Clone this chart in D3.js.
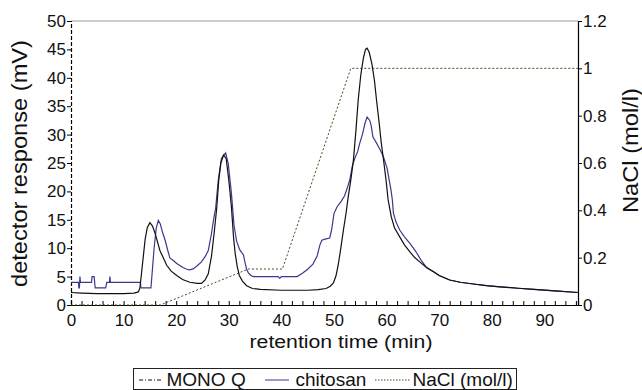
<!DOCTYPE html>
<html><head><meta charset="utf-8">
<script src="https://cdn.jsdelivr.net/npm/d3@7"></script>
<style>
body{margin:0;background:#fff;}
svg{display:block;font-family:"Liberation Sans",Arial,sans-serif;}
</style></head>
<body><svg id="c" width="642" height="390"></svg>
<script>
// retention time (min) / detector response (mV)
const monoQTime = [0,2,5,8,10,12,12.8,13.1,13.4,13.8,14.1,14.5,15.0,15.5,16.0,16.9,18.2,19.0,20.1,21.2,22.6,24.0,24.8,25.5,26.1,26.7,27.2,27.7,28.1,28.5,29.0,29.5,30.0,30.5,30.9,31.2,31.6,32.0,32.6,33.4,34.5,36,40,45,47,48.5,49.3,49.9,50.4,50.8,51.3,51.8,52.3,52.7,53.2,53.7,54.2,54.6,55.1,55.6,56.0,56.3,56.7,57.2,57.7,58.1,58.6,59.0,59.5,59.9,60.3,60.9,61.5,62.5,63.4,64.4,65.3,66.3,67.6,69,70,72,74,76.5,79,81.6,85,88,92,96.4];
const monoQValues = [2.2,2.1,2.0,2.0,2.0,2.1,2.3,3.0,5.5,9,11.6,13.6,14.5,13.9,12.6,9.6,7.0,6.0,5.2,4.5,4.0,3.8,3.8,4.4,5.5,8.5,12.5,17,22,25,26.4,25.8,22,17.3,12,9.2,6.8,5.2,4.2,3.4,2.9,2.75,2.6,2.6,2.7,2.9,3.3,3.9,5.2,7.0,10,13.2,16.2,19,22,25.5,31,36,40.5,43.5,45,45.2,44.5,42.5,39.5,36,32,28.5,25,22,18.5,15.5,13.6,12.0,10.6,9.4,8.4,7.6,6.6,5.8,5.2,4.4,4.0,3.7,3.4,3.2,2.95,2.75,2.5,2.2];

const chitosanTime = [0,1.4,1.5,1.6,1.7,1.8,3.9,4.0,4.4,4.6,6.6,6.8,7.3,7.4,7.5,13.2,13.3,15.2,15.5,15.8,16.2,16.6,17.0,17.4,17.9,18.4,18.8,19.5,20.1,21.3,22.0,22.6,23.3,24.0,24.8,25.5,26.1,26.7,27.1,27.5,28.0,28.6,29.4,29.9,30.5,31.0,31.5,32.1,32.8,33.1,33.4,33.7,34.2,34.7,39.4,39.7,40.0,43.0,44,45,46,46.8,47.3,47.7,48.3,49.2,49.6,50,50.6,51.4,52.0,52.5,53.0,53.5,54.0,54.5,54.9,55.4,55.9,56.3,56.8,57.1,57.4,58.1,58.8,59.4,60.1,60.5,60.8,61.1,61.3,61.8,62.5,63.4,64.4,65.5,66.5,67.6,69,70,72,74,76.5,79,81.6,85,88,92,96.4];
const chitosanValues = [4.0,4.0,3.0,3.0,5.0,4.0,4.0,5.0,5.0,3.0,3.0,4.0,4.0,5.0,4.0,4.0,3.0,3.0,6.5,10,13.5,14.9,14.2,12.8,11.4,9.6,8.3,7.8,7.3,6.6,6.3,6.2,6.4,6.9,7.6,8.5,9.6,12.5,15,17,22,25.8,26.8,24.9,19.7,14,11.2,9.7,8.8,7.4,6.3,5.7,5.2,5.0,5.0,4.7,5.0,5.0,5.6,6.3,7.2,8.6,10.5,11.4,11.6,11.8,13.5,16.1,17.3,18.3,19.2,20.5,22,24.5,25.9,27,28.5,30,32,33.1,32.5,31.5,29.6,28.5,27.3,26.1,24.1,22,20.5,18.5,16.2,14.6,13.2,12,10.9,9.5,8.0,6.6,5.8,5.2,4.4,4.0,3.7,3.4,3.2,2.95,2.75,2.5,2.2];

// NaCl gradient (mol/l)
const naclTime = [0,17,33.7,40.2,53.2,96.4];
const naclValues = [0,0,0.152,0.152,1.0,1.0];

const xTicks = d3.range(0, 97, 2);
const yLeftTicks = d3.range(0, 51, 5);
const yRightTicks = [0,0.2,0.4,0.6,0.8,1.0,1.2];
const legendLabels = ["MONO Q","chitosan","NaCl (mol/l)"];

const svg = d3.select("#c");
const L = 71, R = 578, T = 21, B = 305;
const x = d3.scaleLinear().domain([0, 96.4]).range([L, R]);
const y = d3.scaleLinear().domain([0, 50]).range([B, T]);
const y2 = d3.scaleLinear().domain([0, 1.2]).range([B, T]);

// top frame line
svg.append("line").attr("x1", L).attr("x2", R).attr("y1", T).attr("y2", T)
  .attr("stroke", "#bdbdbd").attr("stroke-width", 1.5);

// bottom axis
const gx = svg.append("g").attr("transform", `translate(0,${B})`)
  .call(d3.axisBottom(x).tickValues(xTicks).tickSize(-4).tickPadding(9)
    .tickFormat(d => d % 10 === 0 && d <= 90 ? d : ""));
gx.select(".domain").attr("stroke", "#000").attr("stroke-width", 1.2);
gx.selectAll(".tick line").attr("stroke", "#000");
gx.selectAll("text").attr("font-size", 17).attr("fill", "#111");

// left axis
const gy = svg.append("g").attr("transform", `translate(${L},0)`)
  .call(d3.axisLeft(y).tickValues(yLeftTicks).tickSize(4).tickPadding(1));
gy.select(".domain").attr("stroke", "#000").attr("stroke-width", 1.2).attr("stroke-dasharray", "4,2");
gy.selectAll(".tick line").attr("stroke", "#000");
gy.selectAll("text").attr("font-size", 17).attr("fill", "#111");

// right axis
const gy2 = svg.append("g").attr("transform", `translate(${R},0)`)
  .call(d3.axisRight(y2).tickValues(yRightTicks).tickSize(4).tickPadding(1)
    .tickFormat(d => String(+d.toFixed(1))));
gy2.select(".domain").attr("stroke", "#000").attr("stroke-width", 1.2);
gy2.selectAll(".tick line").attr("stroke", "#000");
gy2.selectAll("text").attr("font-size", 17).attr("fill", "#111");

// series
const lineL = d3.line().x(d => x(d[0])).y(d => y(d[1]));
const lineR = d3.line().x(d => x(d[0])).y(d => y2(d[1]));
svg.append("path").datum(d3.zip(naclTime, naclValues)).attr("d", lineR)
  .attr("fill", "none").attr("stroke", "#4a4a1e").attr("stroke-width", 1).attr("stroke-dasharray", "2,2");
svg.append("path").datum(d3.zip(chitosanTime, chitosanValues)).attr("d", lineL)
  .attr("fill", "none").attr("stroke", "#3a3a8c").attr("stroke-width", 1.2);
svg.append("path").datum(d3.zip(monoQTime, monoQValues)).attr("d", lineL)
  .attr("fill", "none").attr("stroke", "#111").attr("stroke-width", 1.2);

// axis titles
svg.append("text").attr("x", 341).attr("y", 348).attr("text-anchor", "middle")
  .attr("font-size", 18).attr("fill", "#111").attr("textLength", 183).attr("lengthAdjust", "spacingAndGlyphs")
  .text("retention time (min)");
svg.append("text").attr("transform", "translate(27,163.5) rotate(-90)").attr("text-anchor", "middle")
  .attr("font-size", 22).attr("fill", "#111").attr("textLength", 247).attr("lengthAdjust", "spacingAndGlyphs")
  .text("detector response (mV)");
svg.append("text").attr("transform", "translate(638,150.5) rotate(-90)").attr("text-anchor", "middle")
  .attr("font-size", 22).attr("fill", "#111").attr("textLength", 125).attr("lengthAdjust", "spacingAndGlyphs")
  .text("NaCl (mol/l)");

// legend
const lg = svg.append("g");
lg.append("rect").attr("x", 133.5).attr("y", 368.5).attr("width", 383).attr("height", 21)
  .attr("fill", "#fff").attr("stroke", "#222").attr("stroke-width", 1);
const legendItems = [
  {x1: 139, x2: 162, tx: 166.5, color: "#111", dash: "4,2,1,2"},
  {x1: 265, x2: 289, tx: 295.5, color: "#3a3a8c", dash: null},
  {x1: 375, x2: 410, tx: 412.5, color: "#4a4a1e", dash: "1.5,1.5"}
];
legendItems.forEach((it, i) => {
  lg.append("line").attr("x1", it.x1).attr("x2", it.x2).attr("y1", 380).attr("y2", 380)
    .attr("stroke", it.color).attr("stroke-width", 1).attr("stroke-dasharray", it.dash);
  lg.append("text").attr("x", it.tx).attr("y", 386).attr("font-size", 19).attr("fill", "#111")
    .text(legendLabels[i]);
});
</script></body></html>
